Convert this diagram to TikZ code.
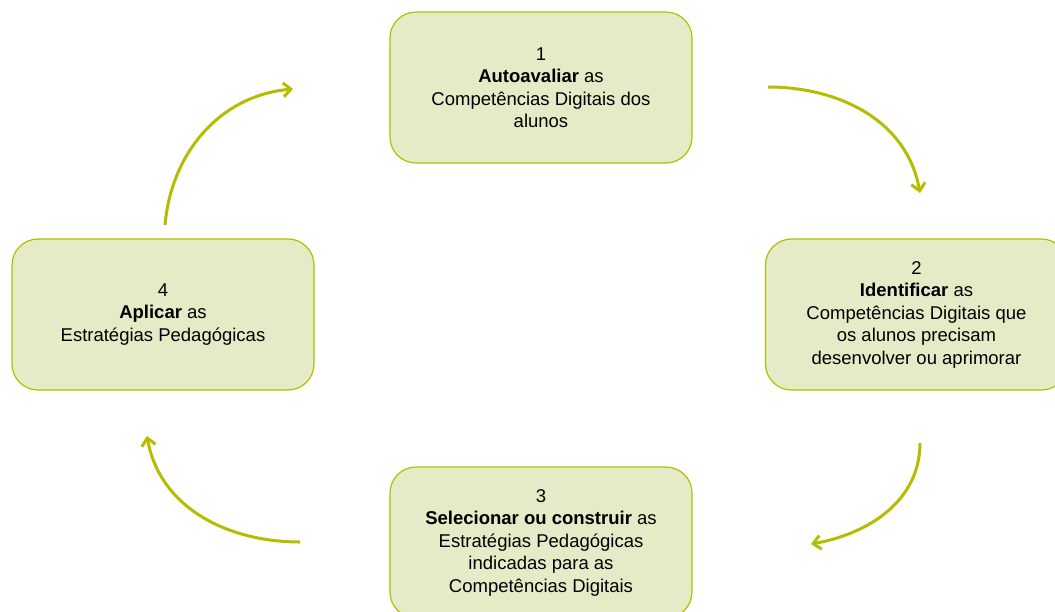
\documentclass[tikz,border=0pt]{standalone}
\usepackage{fontspec}
\setmainfont{Liberation Sans}
\usetikzlibrary{arrows.meta}
\definecolor{oliva}{RGB}{181,189,0}
\definecolor{folha}{RGB}{230,235,199}
\tikzset{etapa/.style={draw=oliva,line width=1.2pt,fill=folha,rounded corners=26pt,
    minimum width=302pt,minimum height=151pt,align=center,inner sep=0pt,
    font=\fontsize{18.5}{22.5}\selectfont}}

\begin{document}
\begin{tikzpicture}[x=1pt,y=1pt]
        \useasboundingbox (0,0) rectangle (1055,-611);

        \node[etapa] (e1) at (541,-87.5) {1\\\textbf{Autoavaliar} as\\Competências Digitais dos\\alunos};
        \node[etapa] (e2) at (916.5,-314.5) {2\\\textbf{Identificar} as\\Competências Digitais que\\os alunos precisam\\desenvolver ou aprimorar};
        \node[etapa] (e3) at (541,-542.5) {3\\\textbf{Selecionar ou construir} as\\Estratégias Pedagógicas\\indicadas para as\\Competências Digitais};
        \node[etapa] (e4) at (163,-314.5) {4\\\textbf{Aplicar} as\\Estratégias Pedagógicas};

        \coordinate (s1) at (768,-87);  \coordinate (t1) at (920,-193);
        \coordinate (s2) at (920,-443); \coordinate (t2) at (811,-544);
        \coordinate (s3) at (300,-542); \coordinate (t3) at (147,-436);
        \coordinate (s4) at (165,-225); \coordinate (t4) at (293,-89);

        \path[->,>={Straight Barb[length=7.5pt,width=14pt]},color=oliva,line width=3pt]
        (s1) edge[out=0,in=100] (t1)
        (s2) edge[out=-90,in=10] (t2)
        (s3) edge[out=180,in=-80] (t3)
        (s4) edge[out=85,in=185] (t4);
\end{tikzpicture}
\end{document}
